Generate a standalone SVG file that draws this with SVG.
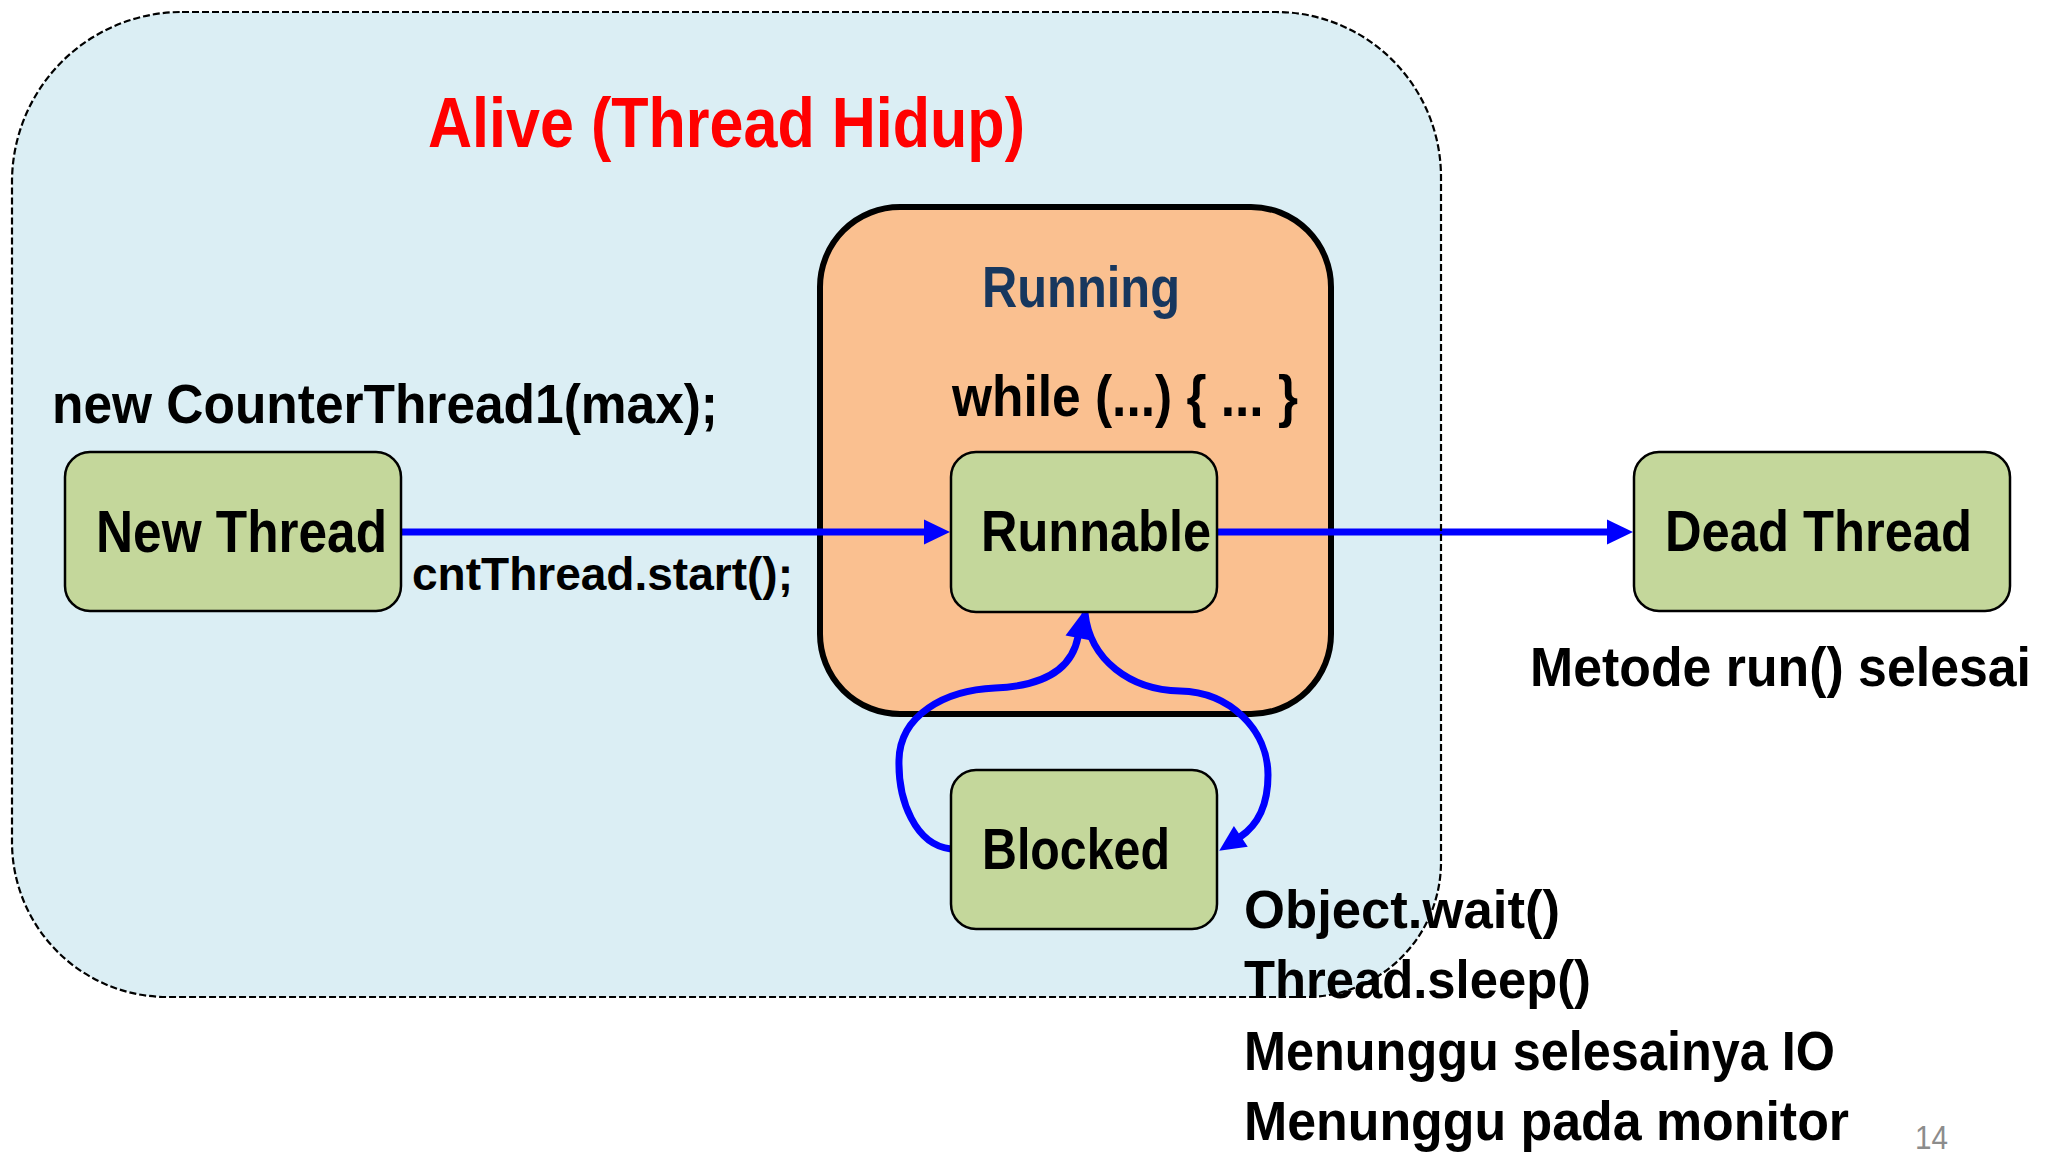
<svg xmlns="http://www.w3.org/2000/svg" width="2055" height="1152" viewBox="0 0 2055 1152">
  <defs>
    <style>
      .txt { font-family: "Liberation Sans", Arial, sans-serif; font-weight: bold; fill: #000; }
      .state { fill: #C4D79B; stroke: #000; stroke-width: 2.5; }
      .flow { fill: none; stroke: #0000FF; stroke-width: 7; marker-end: url(#ah); }
    </style>
    <marker id="ah" markerUnits="userSpaceOnUse" markerWidth="27" markerHeight="26" refX="1" refY="12.5" orient="auto" overflow="visible">
      <path d="M0,0 L26,12.5 L0,25 Z" fill="#0000FF"/>
    </marker>
    <path id="aliveOutline" d="M 182 12 H 1276 A 165 165 0 0 1 1441 177 V 862 A 135 135 0 0 1 1306 997 H 167 A 155 155 0 0 1 12 842 V 182 A 170 170 0 0 1 182 12 Z"/>
  </defs>

  <rect width="2055" height="1152" fill="#FFFFFF"/>

  <!-- Alive container -->
  <g id="alive">
    <use href="#aliveOutline" fill="#DBEEF4"/>
    <text class="txt" x="428" y="147" font-size="70" fill="#FF0000" style="fill:#FF0000" textLength="597" lengthAdjust="spacingAndGlyphs">Alive (Thread Hidup)</text>
  </g>

  <!-- Running container -->
  <g id="running">
    <rect x="820" y="207" width="511" height="507" rx="80" ry="80" fill="#FAC090" stroke="#000" stroke-width="6"/>
    <text class="txt" x="982" y="307" font-size="57" style="fill:#17375E" textLength="198" lengthAdjust="spacingAndGlyphs">Running</text>
    <text class="txt" x="952" y="416" font-size="58" textLength="346" lengthAdjust="spacingAndGlyphs">while (...) { ... }</text>
  </g>

  <!-- Connectors -->
  <g id="connectors">
    <path class="flow" d="M 401 532 H 925"/>
    <path class="flow" d="M 1217 532 H 1608"/>
    <path class="flow" d="M 951 849 C 915 845 898 800 899 760 C 900 715 945 690 995 688 C 1045 686 1072 668 1078 637"/>
    <path class="flow" d="M 1085 613 C 1090 660 1130 690 1180 691 C 1230 692 1268 730 1268 775 C 1268 805 1258 825 1240 837"/>
  </g>

  <!-- States -->
  <g id="new-thread">
    <rect class="state" x="65" y="452" width="336" height="159" rx="25" ry="25"/>
    <text class="txt" x="96" y="552" font-size="59" textLength="291" lengthAdjust="spacingAndGlyphs">New Thread</text>
  </g>
  <g id="runnable">
    <rect class="state" x="951" y="452" width="266" height="160" rx="25" ry="25"/>
    <text class="txt" x="981" y="551" font-size="57" textLength="230" lengthAdjust="spacingAndGlyphs">Runnable</text>
  </g>
  <g id="dead-thread">
    <rect class="state" x="1634" y="452" width="376" height="159" rx="25" ry="25"/>
    <text class="txt" x="1665" y="551" font-size="57" textLength="307" lengthAdjust="spacingAndGlyphs">Dead Thread</text>
  </g>
  <g id="blocked">
    <rect class="state" x="951" y="770" width="266" height="159" rx="25" ry="25"/>
    <text class="txt" x="982" y="869" font-size="58" textLength="188" lengthAdjust="spacingAndGlyphs">Blocked</text>
  </g>

  <!-- Annotations -->
  <g id="labels">
    <text class="txt" x="52" y="423" font-size="55" textLength="666" lengthAdjust="spacingAndGlyphs">new CounterThread1(max);</text>
    <text class="txt" x="412" y="590" font-size="46" textLength="381" lengthAdjust="spacingAndGlyphs">cntThread.start();</text>
    <text class="txt" x="1530" y="686" font-size="56" textLength="501" lengthAdjust="spacingAndGlyphs">Metode run() selesai</text>
    <text class="txt" x="1244" y="928" font-size="54" textLength="316" lengthAdjust="spacingAndGlyphs">Object.wait()</text>
    <text class="txt" x="1244" y="998" font-size="54" textLength="347" lengthAdjust="spacingAndGlyphs">Thread.sleep()</text>
    <text class="txt" x="1244" y="1070" font-size="55" textLength="591" lengthAdjust="spacingAndGlyphs">Menunggu selesainya IO</text>
    <text class="txt" x="1244" y="1140" font-size="55" textLength="605" lengthAdjust="spacingAndGlyphs">Menunggu pada monitor</text>
    <text x="1915" y="1149" font-family="Liberation Sans, Arial, sans-serif" font-size="34" fill="#8C8C8C" textLength="33" lengthAdjust="spacingAndGlyphs">14</text>
  </g>

  <!-- dashed boundary of the Alive region, drawn last so it runs over the labels -->
  <use href="#aliveOutline" fill="none" stroke="#000" stroke-width="2.2" stroke-dasharray="7 3"/>
</svg>
